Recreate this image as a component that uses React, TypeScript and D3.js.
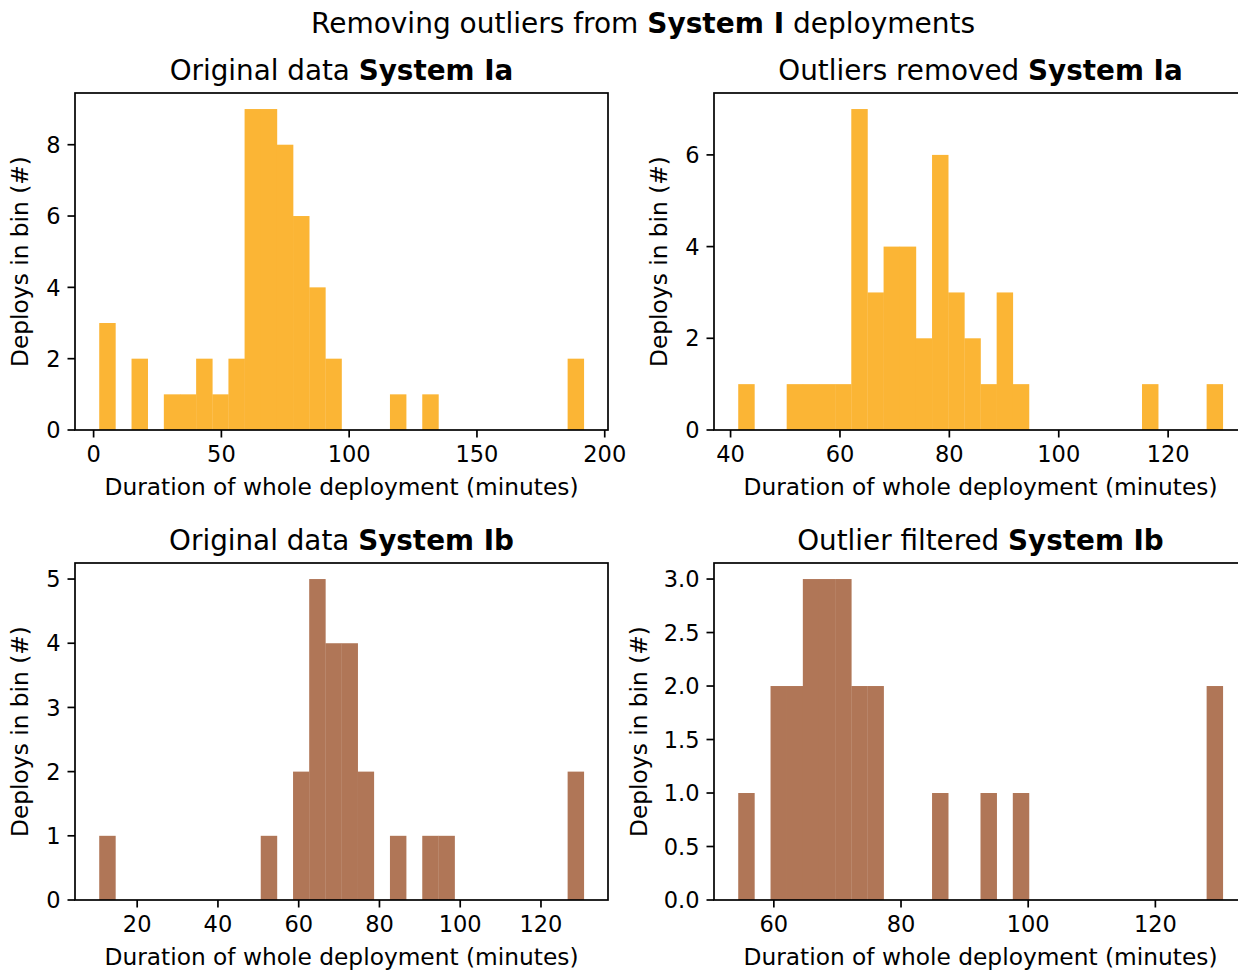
import React from "react";
import * as d3 from "d3";

// ---- data ----
const countsIaOriginal = [3, 0, 2, 0, 1, 1, 2, 1, 2, 9, 9, 8, 6, 4, 2, 0, 0, 0, 1, 0, 1, 0, 0, 0, 0, 0, 0, 0, 0, 2];
const binStartIaOriginal = 2.2;
const binWidthIaOriginal = 6.32;

const countsIaFiltered = [1, 0, 0, 1, 1, 1, 1, 7, 3, 4, 4, 2, 6, 3, 2, 1, 3, 1, 0, 0, 0, 0, 0, 0, 0, 1, 0, 0, 0, 1];
const binStartIaFiltered = 41.4;
const binWidthIaFiltered = 2.953;

const countsIbOriginal = [1, 0, 0, 0, 0, 0, 0, 0, 0, 0, 1, 0, 2, 5, 4, 4, 2, 0, 1, 0, 1, 1, 0, 0, 0, 0, 0, 0, 0, 2];
const binStartIbOriginal = 10.6;
const binWidthIbOriginal = 4.0;

const countsIbFiltered = [1, 0, 2, 2, 3, 3, 3, 2, 2, 0, 0, 0, 1, 0, 0, 1, 0, 1, 0, 0, 0, 0, 0, 0, 0, 0, 0, 0, 0, 2];
const binStartIbFiltered = 54.4;
const binWidthIbFiltered = 2.54;

const xTicksIaOriginal = [0, 50, 100, 150, 200];
const xTicksIaFiltered = [40, 60, 80, 100, 120];
const xTicksIbOriginal = [20, 40, 60, 80, 100, 120];
const xTicksIbFiltered = [60, 80, 100, 120];

const yTicksIaOriginal = [0, 2, 4, 6, 8];
const yTicksIaFiltered = [0, 2, 4, 6];
const yTicksIbOriginal = [0, 1, 2, 3, 4, 5];
const yTicksIbFiltered = [0, 0.5, 1.0, 1.5, 2.0, 2.5, 3.0];

const SUPTITLE_NORMAL_A = "Removing outliers from ";
const SUPTITLE_BOLD = "System I";
const SUPTITLE_NORMAL_B = " deployments";
const X_LABEL = "Duration of whole deployment (minutes)";
const Y_LABEL = "Deploys in bin (#)";

const ORANGE = "#FBB535";
const BROWN = "#B07657";
const FONT = "'DejaVu Sans', sans-serif";

type PanelProps = {
  left: number;
  top: number;
  width: number;
  height: number;
  counts: number[];
  binStart: number;
  binWidth: number;
  xTicks: number[];
  yTicks: number[];
  yFormat: (v: number) => string;
  color: string;
  titleNormal: string;
  titleBold: string;
  yLabelX: number;
};

function Panel(p: PanelProps) {
  const nb = p.counts.length;
  const x0 = p.binStart;
  const x1 = p.binStart + p.binWidth * nb;
  const xm = (x1 - x0) * 0.05;
  const ymax = d3.max(p.counts) as number;
  const x = d3.scaleLinear().domain([x0 - xm, x1 + xm]).range([p.left, p.left + p.width]);
  const y = d3.scaleLinear().domain([0, ymax * 1.05]).range([p.top + p.height, p.top]);
  const bottom = p.top + p.height;
  const tickLen = 7.5;
  const fsTick = 22.5;
  const fsLabel = 23.3;
  const bins = p.counts.map((c, i) => ({ c, a: p.binStart + p.binWidth * i, b: p.binStart + p.binWidth * (i + 1) }));
  return (
    <g>
      {bins.filter((d) => d.c > 0).map((d, i) => (
        <rect key={i} x={x(d.a)} y={y(d.c)} width={x(d.b) - x(d.a) + 0.3} height={bottom - y(d.c)} fill={p.color} />
      ))}
      <rect x={p.left} y={p.top} width={p.width} height={p.height} fill="none" stroke="#000" strokeWidth={1.7} />
      {p.xTicks.map((t) => (
        <g key={"x" + t}>
          <line x1={x(t)} x2={x(t)} y1={bottom} y2={bottom + tickLen} stroke="#000" strokeWidth={1.7} />
          <text x={x(t)} y={bottom + tickLen + 24.5} textAnchor="middle" fontSize={fsTick} fontFamily={FONT} fill="#000">
            {t}
          </text>
        </g>
      ))}
      {p.yTicks.map((t) => (
        <g key={"y" + t}>
          <line x1={p.left - tickLen} x2={p.left} y1={y(t)} y2={y(t)} stroke="#000" strokeWidth={1.7} />
          <text x={p.left - tickLen - 7} y={y(t) + 8.2} textAnchor="end" fontSize={fsTick} fontFamily={FONT} fill="#000">
            {p.yFormat(t)}
          </text>
        </g>
      ))}
      <text x={p.left + p.width / 2} y={bottom + 65} textAnchor="middle" fontSize={fsLabel} fontFamily={FONT} fill="#000">
        {X_LABEL}
      </text>
      <text
        transform={`translate(${p.yLabelX},${p.top + p.height / 2}) rotate(-90)`}
        textAnchor="middle"
        fontSize={fsLabel}
        fontFamily={FONT}
        fill="#000"
      >
        {Y_LABEL}
      </text>
      <text x={p.left + p.width / 2} y={p.top - 13} textAnchor="middle" fontSize={27.8} fontFamily={FONT} fill="#000">
        <tspan>{p.titleNormal}</tspan>
        <tspan fontWeight="bold">{p.titleBold}</tspan>
      </text>
    </g>
  );
}

export default function App() {
  const W = 1238;
  const H = 971;
  const pw = 533;
  const ph = 337;
  const intFmt = (v: number) => d3.format("d")(v);
  const decFmt = (v: number) => d3.format(".1f")(v);
  return (
    <svg width={W} height={H} style={{ position: "absolute", left: 0, top: 0, background: "#fff" }}>
      <rect x={0} y={0} width={W} height={H} fill="#fff" />
      <text x={643} y={33} textAnchor="middle" fontSize={28} fontFamily={FONT} fill="#000">
        <tspan>{SUPTITLE_NORMAL_A}</tspan>
        <tspan fontWeight="bold">{SUPTITLE_BOLD}</tspan>
        <tspan>{SUPTITLE_NORMAL_B}</tspan>
      </text>
      <Panel
        left={75}
        top={93}
        width={pw}
        height={ph}
        counts={countsIaOriginal}
        binStart={binStartIaOriginal}
        binWidth={binWidthIaOriginal}
        xTicks={xTicksIaOriginal}
        yTicks={yTicksIaOriginal}
        yFormat={intFmt}
        color={ORANGE}
        titleNormal="Original data "
        titleBold="System Ia"
        yLabelX={28}
      />
      <Panel
        left={714}
        top={93}
        width={pw}
        height={ph}
        counts={countsIaFiltered}
        binStart={binStartIaFiltered}
        binWidth={binWidthIaFiltered}
        xTicks={xTicksIaFiltered}
        yTicks={yTicksIaFiltered}
        yFormat={intFmt}
        color={ORANGE}
        titleNormal="Outliers removed "
        titleBold="System Ia"
        yLabelX={667}
      />
      <Panel
        left={75}
        top={563}
        width={pw}
        height={ph}
        counts={countsIbOriginal}
        binStart={binStartIbOriginal}
        binWidth={binWidthIbOriginal}
        xTicks={xTicksIbOriginal}
        yTicks={yTicksIbOriginal}
        yFormat={intFmt}
        color={BROWN}
        titleNormal="Original data "
        titleBold="System Ib"
        yLabelX={28}
      />
      <Panel
        left={714}
        top={563}
        width={pw}
        height={ph}
        counts={countsIbFiltered}
        binStart={binStartIbFiltered}
        binWidth={binWidthIbFiltered}
        xTicks={xTicksIbFiltered}
        yTicks={yTicksIbFiltered}
        yFormat={decFmt}
        color={BROWN}
        titleNormal="Outlier filtered "
        titleBold="System Ib"
        yLabelX={647}
      />
    </svg>
  );
}
